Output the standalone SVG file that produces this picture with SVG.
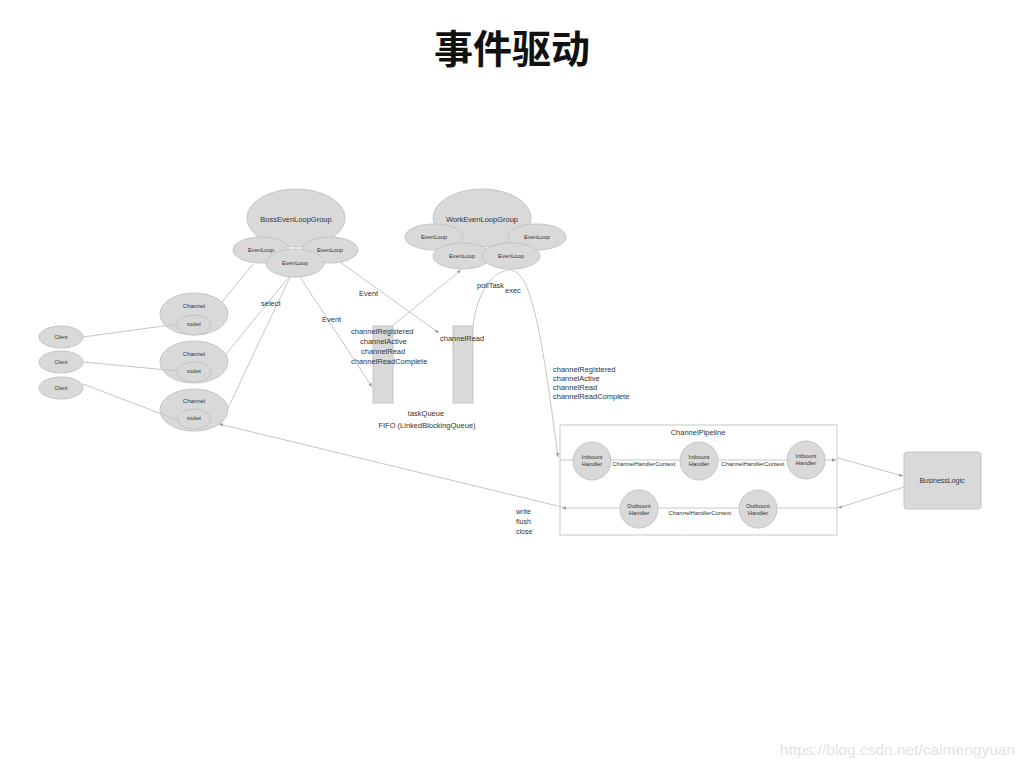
<svg xmlns="http://www.w3.org/2000/svg" width="1024" height="768" viewBox="0 0 1024 768">
<style>
.n{fill:#d9d9d9;stroke:#c4c4c4;stroke-width:1}
.l{fill:none;stroke:#c6c6c6;stroke-width:1}
.t{font-family:"Liberation Sans",Arial,sans-serif;fill:#333;text-anchor:middle;dominant-baseline:central}
.s{font-family:"Liberation Sans",Arial,sans-serif;fill:#333}
</style>
<defs>
<marker id="a" viewBox="0 0 6 6" refX="6" refY="3" markerWidth="4" markerHeight="4" orient="auto" markerUnits="userSpaceOnUse"><path d="M0,0.5 L6,3 L0,5.5 z" fill="#9a9a9a"/></marker>
</defs>
<rect width="1024" height="768" fill="#fff"/>
<text x="512" y="46" style="font-family:'Noto Sans CJK SC',sans-serif;font-size:39px;font-weight:bold;fill:#111;text-anchor:middle;dominant-baseline:central">事件驱动</text>

<g id="boss">
<ellipse class="n" cx="296" cy="218" rx="49" ry="29"/>
<text class="t" x="296" y="219" font-size="7.5">BossEvenLoopGroup</text>
<ellipse class="n" cx="261" cy="250" rx="28" ry="13"/>
<text class="t" x="261" y="250" font-size="5.8">EvenLoop</text>
<ellipse class="n" cx="330" cy="250" rx="28" ry="13"/>
<text class="t" x="330" y="250" font-size="5.8">EvenLoop</text>
<ellipse class="n" cx="295" cy="263" rx="29" ry="14"/>
<text class="t" x="295" y="263" font-size="5.8">EvenLoop</text>
</g>

<g id="work">
<ellipse class="n" cx="482" cy="218" rx="49" ry="29"/>
<text class="t" x="482" y="219" font-size="7.5">WorkEvenLoopGroup</text>
<ellipse class="n" cx="434" cy="237" rx="29" ry="13"/>
<text class="t" x="434" y="237" font-size="5.8">EvenLoop</text>
<ellipse class="n" cx="537" cy="237" rx="29" ry="13"/>
<text class="t" x="537" y="237" font-size="5.8">EvenLoop</text>
<ellipse class="n" cx="462" cy="256" rx="29" ry="13"/>
<text class="t" x="462" y="256" font-size="5.8">EvenLoop</text>
<ellipse class="n" cx="511" cy="256" rx="29" ry="13"/>
<text class="t" x="511" y="256" font-size="5.8">EvenLoop</text>
</g>

<g id="client1"><ellipse class="n" cx="61" cy="337" rx="22" ry="11"/><text class="t" x="61" y="337" font-size="5">Client</text></g>
<g id="client2"><ellipse class="n" cx="61" cy="362" rx="22" ry="11"/><text class="t" x="61" y="362" font-size="5">Client</text></g>
<g id="client3"><ellipse class="n" cx="61" cy="388" rx="22" ry="11"/><text class="t" x="61" y="388" font-size="5">Client</text></g>

<g id="channel1"><ellipse class="n" cx="194" cy="314" rx="34" ry="21"/><text class="t" x="194" y="306" font-size="6">Channel</text><ellipse class="n" cx="194" cy="325" rx="17" ry="10"/><text class="t" x="194" y="324" font-size="4.8">socket</text></g>
<g id="channel2"><ellipse class="n" cx="194" cy="362" rx="34" ry="21"/><text class="t" x="194" y="354" font-size="6">Channel</text><ellipse class="n" cx="194" cy="372" rx="17" ry="10"/><text class="t" x="194" y="371" font-size="4.8">socket</text></g>
<g id="channel3"><ellipse class="n" cx="194" cy="410" rx="34" ry="21"/><text class="t" x="194" y="401" font-size="6">Channel</text><ellipse class="n" cx="194" cy="419" rx="17" ry="10"/><text class="t" x="194" y="418" font-size="4.8">socket</text></g>

<g id="taskQueue">
<rect class="n" x="373" y="326" width="20" height="77"/>
<rect class="n" x="453" y="326" width="20" height="77"/>
<text class="s" x="351" y="334" font-size="7.5">channelRegistered</text>
<text class="s" x="360" y="344" font-size="7.5">channelActive</text>
<text class="s" x="361" y="354" font-size="7.5">channelRead</text>
<text class="s" x="351" y="364" font-size="7.5">channelReadComplete</text>
<text class="s" x="440" y="341" font-size="7.5">channelRead</text>
<text class="t" x="426" y="413" font-size="7.5">taskQueue</text>
<text class="t" x="427" y="425" font-size="7.5">FIFO (LinkedBlockingQueue)</text>
</g>

<g id="pipeline">
<rect x="560" y="425" width="277" height="110" fill="none" stroke="#c8c8c8" stroke-width="1"/>
<text class="t" x="698" y="432" font-size="7.5">ChannelPipeline</text>
<text class="t" x="644" y="464" font-size="5.9">ChannelHandlerContext</text>
<text class="t" x="753" y="464" font-size="5.9">ChannelHandlerContext</text>
<text class="t" x="700" y="513" font-size="5.9">ChannelHandlerContext</text>
</g>
<g id="in1"><circle class="n" cx="592" cy="461" r="19"/><text class="t" x="592" y="457" font-size="5.8">Intbount</text><text class="t" x="592" y="464" font-size="5.8">Handler</text></g>
<g id="in2"><circle class="n" cx="699" cy="461" r="19"/><text class="t" x="699" y="457" font-size="5.8">Intbount</text><text class="t" x="699" y="464" font-size="5.8">Handler</text></g>
<g id="in3"><circle class="n" cx="806" cy="460" r="19"/><text class="t" x="806" y="456" font-size="5.8">Intbount</text><text class="t" x="806" y="463" font-size="5.8">Handler</text></g>
<g id="out1"><circle class="n" cx="639" cy="509" r="19"/><text class="t" x="639" y="506" font-size="5.8">Outbount</text><text class="t" x="639" y="513" font-size="5.8">Handler</text></g>
<g id="out2"><circle class="n" cx="758" cy="509" r="19"/><text class="t" x="758" y="506" font-size="5.8">Outbount</text><text class="t" x="758" y="513" font-size="5.8">Handler</text></g>

<g id="business"><rect class="n" x="904" y="452" width="77" height="57" rx="3"/><text class="t" x="942" y="480" font-size="7">BusinessLogic</text></g>

<g id="connectors">
<line class="l" x1="83" y1="337" x2="178" y2="324"/>
<line class="l" x1="83" y1="362" x2="178" y2="371"/>
<line class="l" x1="83" y1="384" x2="180" y2="421"/>
<line class="l" x1="253" y1="264" x2="222" y2="302"/>
<line class="l" x1="289" y1="277" x2="226" y2="354"/>
<line class="l" x1="290" y1="277" x2="228" y2="408"/>
<line class="l" x1="300" y1="277" x2="372" y2="387" marker-end="url(#a)"/>
<line class="l" x1="340" y1="262" x2="439" y2="333" marker-end="url(#a)"/>
<line class="l" x1="392" y1="326" x2="461" y2="270" marker-end="url(#a)"/>
<path class="l" d="M473,326 C476,300 488,273 508,270 C530,268 540,320 558,457" marker-end="url(#a)"/>
<path class="l" d="M560,460 H573 M611,460 H680 M718,460 H787"/>
<line class="l" x1="825" y1="460" x2="836" y2="460" marker-end="url(#a)"/>
<line class="l" x1="838" y1="458" x2="903" y2="476" marker-end="url(#a)"/>
<line class="l" x1="904" y1="487" x2="838" y2="508" marker-end="url(#a)"/>
<path class="l" d="M837,508 H777 M739,508 H658"/>
<line class="l" x1="620" y1="508" x2="562" y2="508" marker-end="url(#a)"/>
<line class="l" x1="562" y1="507" x2="219" y2="424" marker-end="url(#a)"/>
<text class="s" x="261" y="306" font-size="7.5">select</text>
<text class="s" x="322" y="322" font-size="7.5">Event</text>
<text class="s" x="359" y="296" font-size="7.5">Event</text>
<text class="s" x="477" y="288" font-size="7.5">pollTask</text>
<text class="s" x="505" y="293" font-size="7.5">exec</text>
<text class="s" x="553" y="372" font-size="7.5">channelRegistered</text>
<text class="s" x="553" y="381" font-size="7.5">channelActive</text>
<text class="s" x="553" y="390" font-size="7.5">channelRead</text>
<text class="s" x="553" y="399" font-size="7.5">channelReadComplete</text>
<text class="s" x="516" y="514" font-size="7">write</text>
<text class="s" x="516" y="524" font-size="7">flush</text>
<text class="s" x="516" y="534" font-size="7">close</text>
</g>

<text x="1015" y="755" style="font-family:'Liberation Sans',Arial,sans-serif;font-size:15.5px;fill:#e3e3e3;text-anchor:end">https://blog.csdn.net/caimengyuan</text>
</svg>
